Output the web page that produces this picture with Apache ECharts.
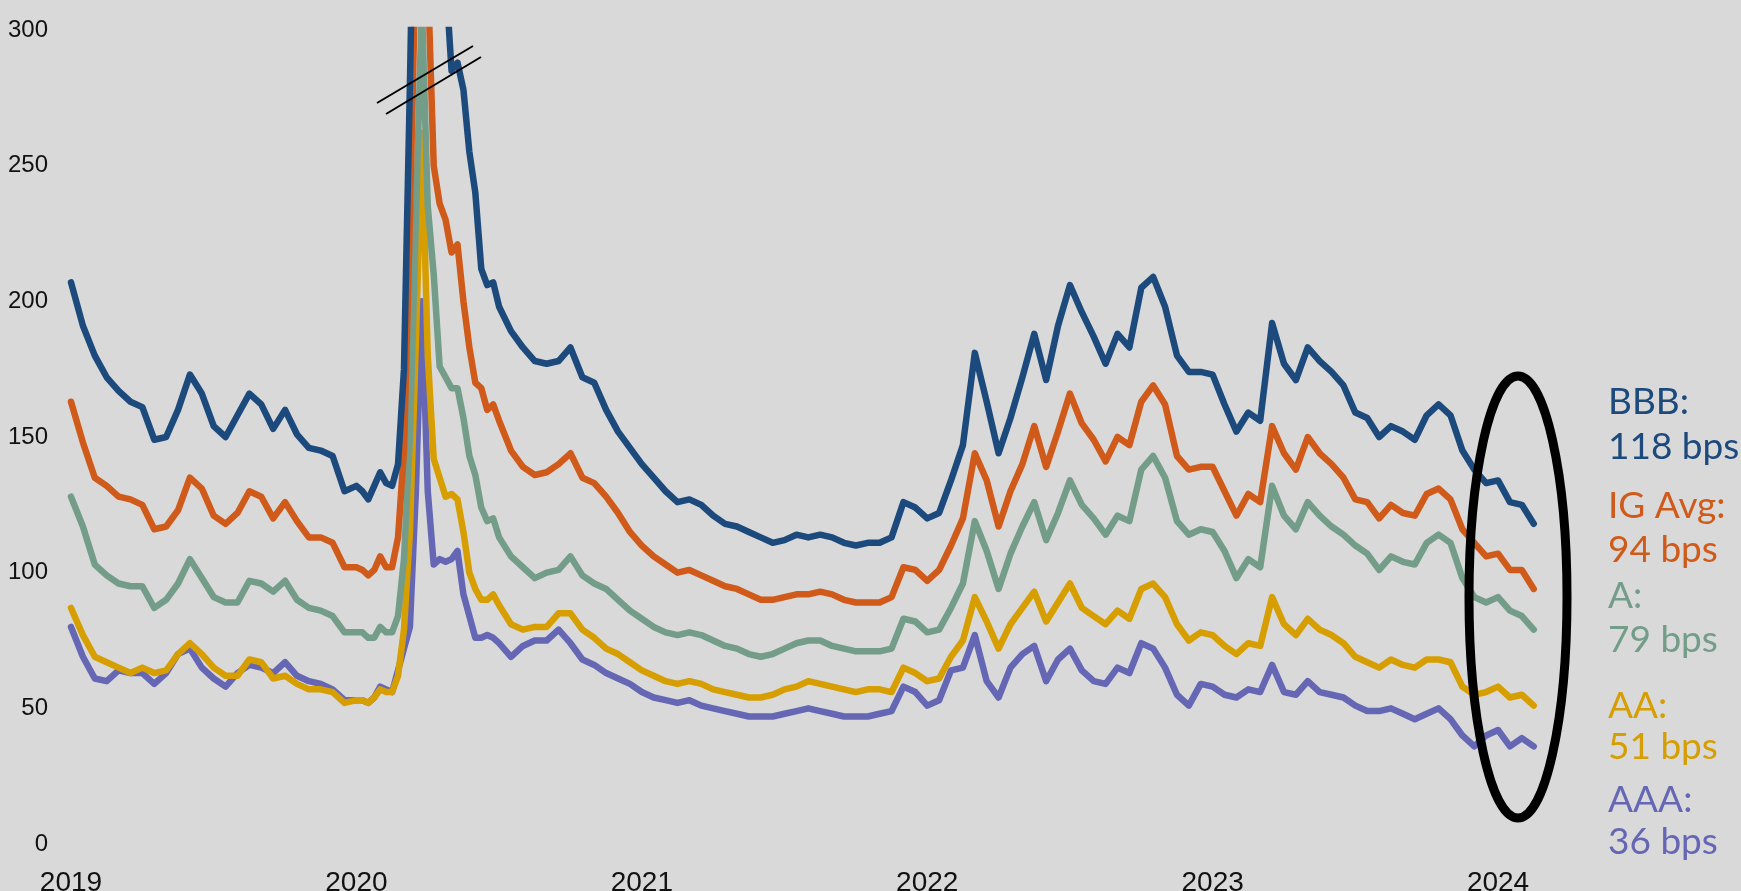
<!DOCTYPE html>
<html>
<head>
<meta charset="utf-8">
<title>IG spreads by rating</title>
<script src="https://cdn.jsdelivr.net/npm/echarts@6/dist/echarts.min.js"></script>
<style>
  html, body { margin: 0; padding: 0; background: #d9d9d9; }
  #chart { width: 1741px; height: 891px; }
</style>
</head>
<body>
<div id="chart"></div>
<script>
// sample dates as fractional years: half-monthly, weekly through the 2020 spike
var sampleYears = []
for (var i = 0; i < 24; i++) sampleYears.push(2019 + i / 24)
for (var i = 0; i < 24; i++) sampleYears.push(2020 + i / 48)
for (var i = 0; i < 88; i++) sampleYears.push(2020.5 + i / 24)

var yearTicks = [2019, 2020, 2021, 2022, 2023, 2024]

// spreads in bps (2019 | 2020 H1 weekly | 2020 H2 onwards)
var bbb = [
  207, 191, 180, 172, 167, 163, 161, 149, 150, 160, 173, 166, 154, 150, 158, 166, 162, 153, 160, 151, 146, 145, 143, 130,
  132, 130, 127, 132, 137, 133, 132, 140, 175, 280, 400, 480, 450, 400, 360, 320, 285, 288, 278, 255, 240, 212, 206, 207,
  198, 189, 183, 178, 177, 178, 183, 172, 170, 160, 152, 146, 140, 135, 130, 126, 127, 125, 121, 118, 117, 115, 113, 111, 112, 114, 113, 114, 113, 111, 110, 111, 111,
  113, 126, 124, 120, 122, 134, 147, 181, 163, 144, 157, 172, 188, 171, 191, 206, 196, 187, 177, 188, 183, 205, 209, 198, 180, 174, 174, 173, 162, 152, 159, 156,
  192, 177, 171, 183, 178, 174, 169, 159, 157, 150, 154, 152, 149, 158, 162, 158, 145, 138, 133, 134, 126, 125, 118
]
var igAvg = [
  163, 148, 135, 132, 128, 127, 125, 116, 117, 123, 135, 131, 121, 118, 122, 130, 128, 120, 126, 119, 113, 113, 111, 102,
  102, 101, 99, 101, 106, 102, 102, 113, 145, 230, 330, 380, 320, 250, 236, 230, 218, 221, 200, 183, 170, 168, 160, 162,
  156, 145, 139, 136, 137, 140, 144, 135, 133, 128, 122, 115, 110, 106, 103, 100, 101, 99, 97, 95, 94, 92, 90, 90, 91, 92, 92, 93, 92, 90, 89, 89, 89,
  91, 102, 101, 97, 101, 110, 120, 144, 134, 117, 130, 140, 154, 139, 152, 166, 155, 149, 141, 150, 147, 163, 169, 162, 143, 138, 139, 139, 130, 121, 129, 126,
  154, 144, 138, 150, 144, 140, 135, 127, 126, 120, 125, 122, 121, 129, 131, 127, 116, 111, 106, 107, 101, 101, 94
]
var ratingA = [
  128, 117, 103, 99, 96, 95, 95, 87, 90, 96, 105, 98, 91, 89, 89, 97, 96, 93, 97, 90, 87, 86, 84, 78,
  78, 78, 76, 76, 80, 78, 78, 84, 105, 150, 230, 310, 235, 210, 176, 172, 168, 168, 157, 143, 136, 124, 119, 120,
  113, 106, 102, 98, 100, 101, 106, 99, 96, 94, 90, 86, 83, 80, 78, 77, 78, 77, 75, 73, 72, 70, 69, 70, 72, 74, 75, 75, 73, 72, 71, 71, 71,
  72, 83, 82, 78, 79, 87, 96, 119, 108, 94, 107, 117, 126, 112, 122, 134, 125, 120, 114, 121, 119, 138, 143, 135, 119, 114, 116, 115, 108, 98, 105, 102,
  132, 121, 116, 126, 121, 117, 114, 110, 107, 101, 106, 104, 103, 111, 114, 111, 98, 91, 89, 91, 86, 84, 79
]
var ratingAA = [
  87, 77, 69, 67, 65, 63, 65, 63, 64, 70, 74, 70, 65, 62, 62, 68, 67, 61, 62, 59, 57, 57, 56, 52,
  53, 53, 52, 54, 57, 56, 56, 62, 79, 115, 185, 262, 180, 142, 135, 128, 129, 127, 115, 100, 94, 90, 90, 92,
  88, 81, 79, 80, 80, 85, 85, 79, 76, 72, 70, 67, 64, 62, 60, 59, 60, 59, 57, 56, 55, 54, 54, 55, 57, 58, 60, 59, 58, 57, 56, 57, 57,
  56, 65, 63, 60, 61, 69, 75, 91, 82, 72, 81, 87, 93, 82, 89, 96, 87, 84, 81, 86, 83, 94, 96, 91, 81, 75, 78, 77, 73, 70, 74, 73,
  91, 81, 77, 83, 79, 77, 74, 69, 67, 65, 68, 66, 65, 68, 68, 67, 58, 55, 56, 58, 54, 55, 51
]
var ratingAAA = [
  80, 69, 61, 60, 64, 63, 63, 59, 63, 70, 72, 65, 61, 58, 63, 66, 65, 63, 67, 62, 60, 59, 57, 53,
  53, 53, 52, 54, 58, 57, 56, 64, 72, 80, 130, 200, 130, 103, 105, 104, 105, 108, 92, 84, 76, 76, 77, 76,
  74, 69, 73, 75, 75, 79, 74, 68, 66, 63, 61, 59, 56, 54, 53, 52, 53, 51, 50, 49, 48, 47, 47, 47, 48, 49, 50, 49, 48, 47, 47, 47, 48,
  49, 58, 56, 51, 53, 64, 65, 77, 60, 54, 65, 70, 73, 60, 68, 72, 64, 60, 59, 65, 63, 74, 72, 65, 55, 51, 59, 58, 55, 54, 57, 56,
  66, 56, 55, 60, 56, 55, 54, 51, 49, 49, 50, 48, 46, 48, 50, 46, 40, 36, 40, 42, 36, 39, 36
]

var seriesNames = ['AAA', 'AA', 'A', 'IG Avg', 'BBB']
var seriesColors = ['#6567b5', '#d69e00', '#739d89', '#cf5a1a', '#1c4a7c']
var endLabels = [
  ['AAA:', '36 bps'],
  ['AA:', '51 bps'],
  ['A:', '79 bps'],
  ['IG Avg:', '94 bps'],
  ['BBB:', '118 bps']
]
var labelRows = [[800, 842], [706, 747], [596, 640], [506, 550], [402, 447]]

function pairUp(values) {
  return values.map(function (v, i) { return [sampleYears[i], v] })
}

var chart = echarts.init(document.getElementById('chart'))

var allValues = [ratingAAA, ratingAA, ratingA, igAvg, bbb]
var series = allValues.map(function (vals, i) {
  return {
    name: seriesNames[i],
    type: 'line',
    data: pairUp(vals),
    showSymbol: false,
    clip: true,
    lineStyle: { color: seriesColors[i], width: 6.5, join: 'round', cap: 'round' },
    itemStyle: { color: seriesColors[i] },
    z: 2 + i
  }
})

var graphics = []
endLabels.forEach(function (pair, i) {
  pair.forEach(function (txt, j) {
    graphics.push({
      type: 'text',
      x: 1608,
      y: labelRows[i][j],
      z: 20,
      style: {
        text: txt,
        fill: seriesColors[i],
        fontFamily: 'Lato',
        fontSize: 37,
        align: 'left',
        verticalAlign: 'middle'
      }
    })
  })
})
// axis-break marks on the 2020 spike
graphics.push({ type: 'line', z: 20, shape: { x1: 377, y1: 103, x2: 473, y2: 46 }, style: { stroke: '#000', lineWidth: 2 } })
graphics.push({ type: 'line', z: 20, shape: { x1: 386, y1: 114, x2: 481, y2: 57 }, style: { stroke: '#000', lineWidth: 2 } })
// ring around the latest readings
graphics.push({
  type: 'ellipse',
  z: 20,
  shape: { cx: 1518, cy: 597, rx: 49, ry: 221 },
  style: { fill: 'none', stroke: '#000', lineWidth: 9 }
})

chart.setOption({
  backgroundColor: '#d9d9d9',
  animation: false,
  grid: {
    left: 71,
    right: 171.6,
    top: 30,
    bottom: 47,
    containLabel: false,
    outerBoundsMode: 'none'
  },
  xAxis: {
    type: 'value',
    min: yearTicks[0],
    max: 2024.25,
    interval: 1,
    axisLine: { show: false },
    axisTick: { show: false },
    splitLine: { show: false },
    axisLabel: {
      showMaxLabel: false,
      margin: 25,
      fontSize: 28,
      color: '#111',
      fontFamily: 'Liberation Sans',
      formatter: function (v) {
        return yearTicks.indexOf(v) >= 0 ? String(v) : ''
      }
    }
  },
  yAxis: {
    type: 'value',
    min: 0,
    max: 300,
    interval: 50,
    axisLine: { show: false },
    axisTick: { show: false },
    splitLine: { show: false },
    axisLabel: {
      margin: 23,
      fontSize: 24,
      color: '#111',
      fontFamily: 'Liberation Sans'
    }
  },
  graphic: graphics,
  series: series
})
</script>
</body>
</html>
